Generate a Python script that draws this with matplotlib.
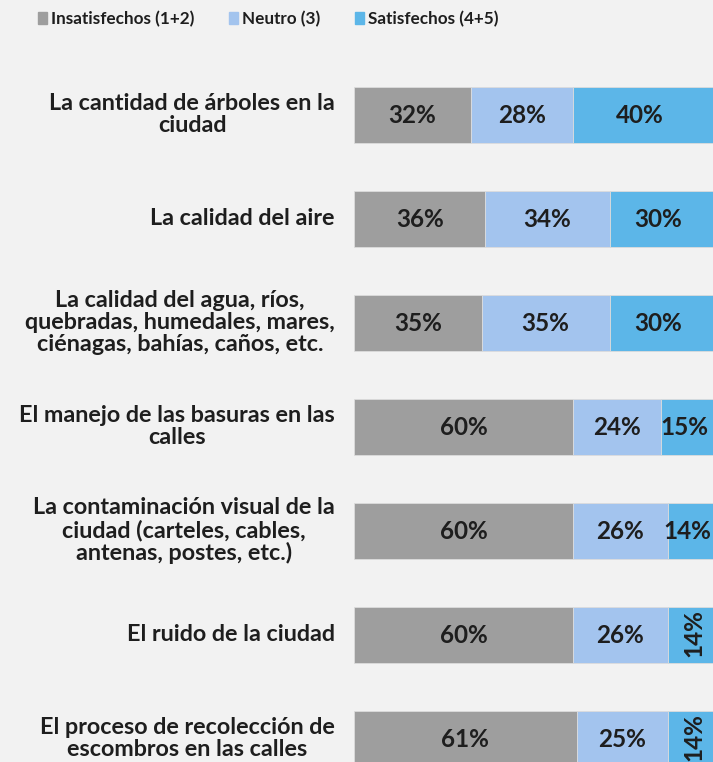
import matplotlib
matplotlib.use('Agg')
import matplotlib.pyplot as plt
from matplotlib.patches import Rectangle
import matplotlib.transforms as mtransforms

categories = [
    "La cantidad de árboles en la\nciudad",
    "La calidad del aire",
    "La calidad del agua, ríos,\nquebradas, humedales, mares,\nciénagas, bahías, caños, etc.",
    "El manejo de las basuras en las\ncalles",
    "La contaminación visual de la\nciudad (carteles, cables,\nantenas, postes, etc.)",
    "El ruido de la ciudad",
    "El proceso de recolección de\nescombros en las calles",
]
insatisfechos = [32, 36, 35, 60, 60, 60, 61]
neutro = [28, 34, 35, 24, 26, 26, 25]
satisfechos = [40, 30, 30, 15, 14, 14, 14]
series_names = ["Insatisfechos (1+2)", "Neutro (3)", "Satisfechos (4+5)"]
label_rotation_sat = [0, 0, 0, 0, 0, 90, 90]

colors = ["#9e9e9e", "#a3c4ee", "#5cb6e8"]
bg = "#f2f2f2"
txt = "#1e1e1e"
FONT = "Lato"

W, H = 713, 762
fig = plt.figure(figsize=(W / 100, H / 100), dpi=100, facecolor=bg)
top_px = 63
ax_right_px = 719
ax = fig.add_axes([354 / W, 0, (ax_right_px - 354) / W, (H - top_px) / H])
ax.set_facecolor(bg)
xmax = 100
visible_max = xmax * (W - 354) / (ax_right_px - 354) - 1.5

series = [insatisfechos, neutro, satisfechos]
ypos = list(range(len(categories)))
left = [0] * len(categories)
for si, (vals, col) in enumerate(zip(series, colors)):
    ax.barh(ypos, vals, left=left, height=0.53, color=col,
            edgecolor="#dcdcdc", linewidth=0.6)
    for i, v in enumerate(vals):
        rot = label_rotation_sat[i] if si == 2 else 0
        if rot == 0:
            cx = (left[i] + min(left[i] + v, visible_max)) / 2
            cy = i
        else:
            cx = left[i] + v / 2
            cy = i - 0.02
        ax.text(cx, cy, f"{v}%", ha="center", va="center", rotation=rot,
                fontsize=17.5, fontweight="bold", color=txt, family=FONT)
    left = [l + v for l, v in zip(left, vals)]

ax.set_xlim(0, xmax)
ax.set_ylim(-0.5 + (H - top_px) / 104, -0.5)
ax.set_yticks(ypos)
ax.set_yticklabels(categories, fontsize=16.8, fontweight="bold", color=txt,
                   family=FONT, multialignment="center", linespacing=1.05)
ax.tick_params(axis="y", length=0, pad=13.7)
shift = mtransforms.ScaledTranslation(0, 2 / 72, fig.dpi_scale_trans)
for lbl in ax.get_yticklabels():
    lbl.set_transform(lbl.get_transform() + shift)
ax.set_xticks([])
for s in ax.spines.values():
    s.set_visible(False)

# legend
leg_sq_x = [38, 229, 355]
leg_y = 19
for name, col, x in zip(series_names, colors, leg_sq_x):
    fig.patches.append(Rectangle((x / W, 1 - 24 / H), 9 / W, 12 / H,
                                 transform=fig.transFigure, color=col))
    fig.text((x + 13) / W, 1 - leg_y / H, name, ha="left", va="center",
             fontsize=12.3, fontweight="bold", color=txt, family=FONT)

fig.savefig("out.png", dpi=100, facecolor=bg)
